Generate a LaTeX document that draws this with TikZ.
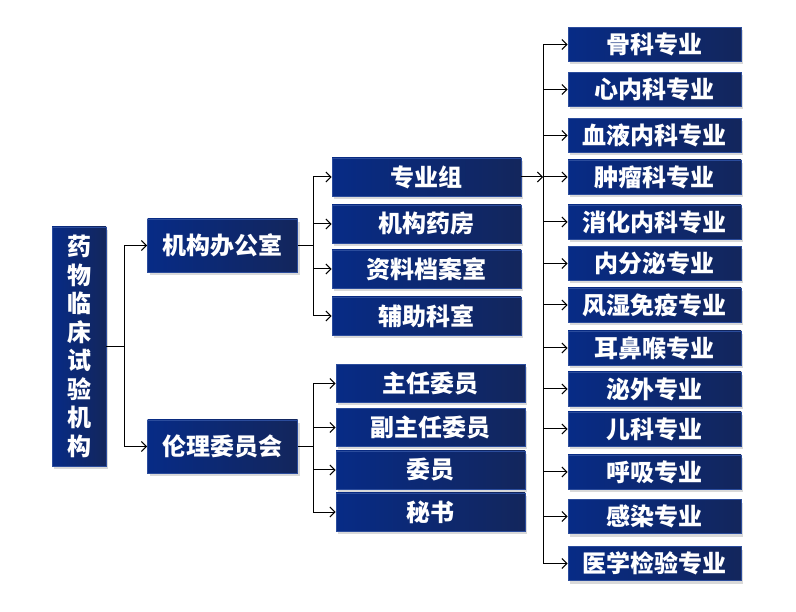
\documentclass[tikz,border=0pt]{standalone}
\usepackage{fontspec}
\newfontfamily\cjk{Noto Sans CJK SC}
\usetikzlibrary{shadows,arrows.meta}
\definecolor{boxleft}{HTML}{072B86}
\definecolor{boxright}{HTML}{13265C}
\definecolor{boxline}{HTML}{2B4C9C}
\begin{document}
\begin{tikzpicture}[x=1pt, y=-1pt, line width=1pt, >={Straight Barb[length=5pt,width=10pt]},
    orgbox/.style={draw=boxline, line width=0.8pt, left color=boxleft, right color=boxright,
      text=white, inner sep=0pt, font=\cjk\bfseries\fontsize{24}{28.5}\selectfont,
      drop shadow={shadow xshift=2pt, shadow yshift=-3pt, opacity=0.3}},
    rootbox/.style={orgbox, minimum width=54pt, minimum height=239pt, align=center},
    lvbox/.style={orgbox, minimum width=150pt, minimum height=53pt},
    midbox/.style={orgbox, minimum width=189pt, minimum height=38pt},
    subbox/.style={orgbox, minimum width=173pt, minimum height=34pt}]
  \useasboundingbox (0,0) rectangle (796,612);

  \node[rootbox] (root) at (79,346.5) {药\\物\\临\\床\\试\\验\\机\\构};
  \node[lvbox] (office) at (222.5,245.5) {机构办公室};
  \node[lvbox] (ethics) at (222.5,446.5) {伦理委员会};

  \node[midbox] (zyz) at (426.5,177) {专业组};
  \node[midbox] (jgyf) at (426.5,224) {机构药房};
  \node[midbox] (zlda) at (426.5,269) {资料档案室};
  \node[midbox] (fzks) at (426.5,316) {辅助科室};

  \node[midbox] (zrwy) at (430.5,383.5) {主任委员};
  \node[midbox] (fzrwy) at (430.5,427.5) {副主任委员};
  \node[midbox] (wy) at (430.5,470) {委员};
  \node[midbox] (ms) at (430.5,512) {秘书};

  \foreach \y/\t [count=\i] in {44.5/骨科专业, 89.5/心内科专业, 135.5/血液内科专业,
      177/肿瘤科专业, 222/消化内科专业, 263.5/内分泌专业, 305/风湿免疫专业,
      348/耳鼻喉专业, 389/泌外专业, 429/儿科专业, 472/呼吸专业, 516.5/感染专业,
      563.5/医学检验专业}
    \node[subbox] (s\i) at (654.5,\y) {\t};

  \coordinate (j1) at (124,346.5);
  \coordinate (j2) at (313,245.5);
  \coordinate (j3) at (313,446.5);
  \coordinate (j4) at (543,177);

  \draw (root) -- (j1);
  \draw[->] (j1) |- (office);
  \draw[->] (j1) |- (ethics);

  \draw (office) -- (j2);
  \foreach \n in {zyz,jgyf,zlda,fzks}
    \draw[->] (j2) |- (\n);

  \draw (ethics) -- (j3);
  \foreach \n in {zrwy,fzrwy,wy,ms}
    \draw[->] (j3) |- (\n);

  \draw[->] (zyz) -- (j4);
  \foreach \i in {1,...,13}
    \draw[->] (j4) |- (s\i);
\end{tikzpicture}
\end{document}
